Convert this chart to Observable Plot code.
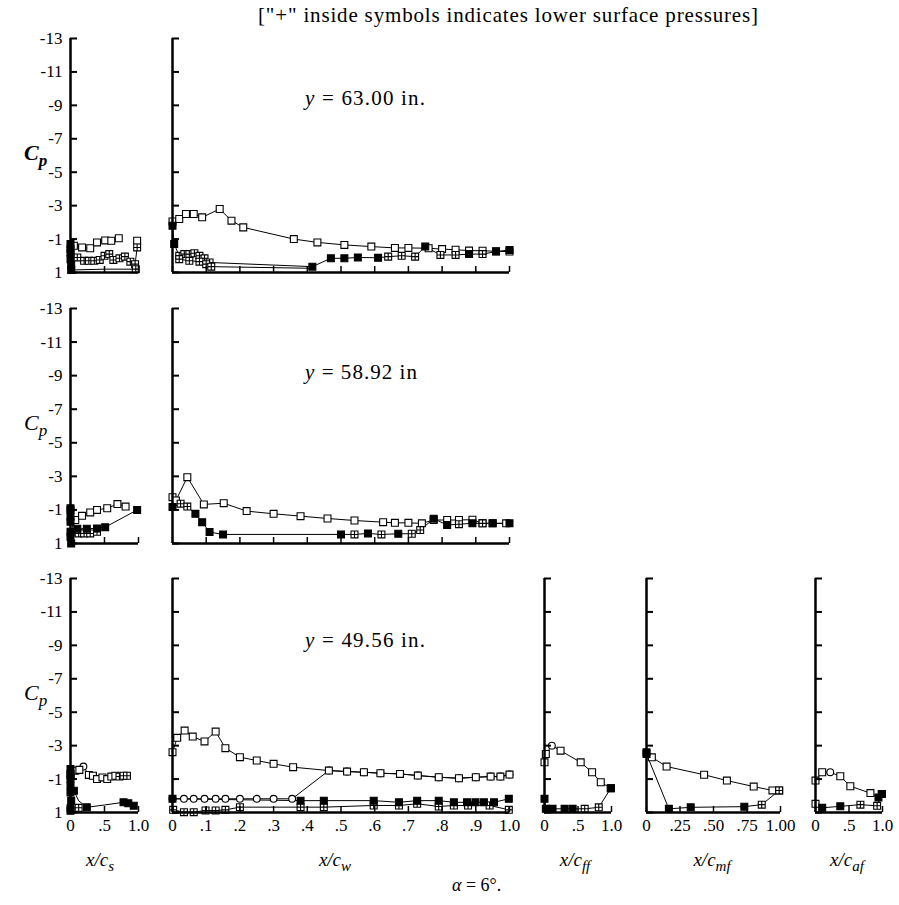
<!DOCTYPE html>
<html>
<head>
<meta charset="utf-8">
<script src="https://cdn.jsdelivr.net/npm/d3@7"></script>
<script src="https://cdn.jsdelivr.net/npm/@observablehq/plot@0.6"></script>
<style>
  html, body { margin: 0; padding: 0; background: #fff; }
  #chart { position: relative; width: 899px; height: 905px; background: #fff; overflow: hidden; }
  #chart svg { position: absolute; }
</style>
</head>
<body>
<div id="chart"></div>
<script>
// Pressure coefficient axis (inverted: suction up)
const yTicks = [-13, -11, -9, -7, -5, -3, -1, 1];
const yTickLabels = ["-13", "-11", "-9", "-7", "-5", "-3", "-1", "1"];

// Chordwise axes
const wingTicks = [0, 0.1, 0.2, 0.3, 0.4, 0.5, 0.6, 0.7, 0.8, 0.9, 1.0];
const wingTickLabels = ["0", ".1", ".2", ".3", ".4", ".5", ".6", ".7", ".8", ".9", "1.0"];
const halfTicks = [0, 0.5, 1.0];
const halfTickLabels = ["0", ".5", "1.0"];
const quarterTicks = [0, 0.25, 0.5, 0.75, 1.0];
const quarterTickLabels = ["0", ".25", ".50", ".75", "1.00"];

// Tap types: U upper surface, L lower surface ("+"), F filled, C circle, "" no symbol
// ---- y = 63.00 in. ----
const slat63Upper = [[0,-0.7,"F"],[0.05,-0.6,"U"],[0.17,-0.5,"U"],[0.29,-0.45,"U"],[0.39,-0.8,"U"],[0.51,-0.92,"U"],[0.6,-0.9,"U"],[0.71,-1.05,"U"]];
const slat63Lower = [[0,-0.4,"F"],[0.1,0.1,"L"],[0.2,0.3,"L"],[0.27,0.3,"L"],[0.35,0.3,"L"],[0.43,0.25,"L"],[0.5,0.0,"L"],[0.57,-0.1,"L"],[0.63,0.25,"L"],[0.72,0.15,"L"],[0.8,0.05,"L"],[0.88,0.35,"L"],[0.95,0.5,"L"],[0.98,-0.5,"L"],[0.98,-0.9,"U"]];
const slat63Nose = [[0,-0.2,"F"],[0,0.2,"F"],[0.01,0.55,"F"],[0.01,0.85,"F"],[0.5,0.8,""],[0.96,0.8,"L"]];
const wing63Upper = [[0,-2.05,"U"],[0.02,-2.2,"U"],[0.04,-2.5,"U"],[0.063,-2.5,"U"],[0.088,-2.3,"U"],[0.14,-2.8,"U"],[0.175,-2.1,"U"],[0.21,-1.7,"U"],[0.36,-1.0,"U"],[0.43,-0.8,"U"],[0.51,-0.65,"U"],[0.59,-0.55,"U"],[0.66,-0.47,"U"],[0.7,-0.47,"U"],[0.76,-0.45,"U"],[0.8,-0.4,"U"],[0.84,-0.36,"U"],[0.88,-0.31,"U"],[0.92,-0.3,"U"],[0.96,-0.27,"U"],[1.0,-0.25,"U"]];
const wing63Lower = [[0,-1.8,"F"],[0.005,-0.7,"F"],[0.02,0.0,"L"],[0.035,-0.1,"L"],[0.05,-0.1,"L"],[0.065,-0.15,"L"],[0.08,0.0,"L"],[0.095,0.15,"L"],[0.11,0.4,"L"],[0.415,0.65,"F"],[0.47,0.15,"F"],[0.51,0.15,"F"],[0.55,0.1,"F"],[0.61,0.12,"F"],[0.64,0.05,"L"],[0.68,0.0,"L"],[0.72,0.05,"L"],[0.75,-0.55,"F"],[0.795,-0.05,"L"],[0.84,-0.05,"L"],[0.88,-0.1,"F"],[0.92,-0.1,"L"],[0.96,-0.25,"F"],[1.0,-0.35,"F"]];
const wing63Lower2 = [[0.02,0.2,"L"],[0.05,0.3,"L"],[0.08,0.35,"L"],[0.1,0.5,"L"],[0.115,0.65,"L"],[0.415,0.75,""]];

// ---- y = 58.92 in ----
const slat58Upper = [[0,-1.0,"F"],[0.07,-0.4,"U"],[0.17,-0.65,"U"],[0.29,-0.85,"U"],[0.39,-1.0,"U"],[0.54,-1.1,"U"],[0.69,-1.35,"U"],[0.81,-1.2,"U"]];
const slat58Lower = [[0,-0.6,"F"],[0.05,0.35,"L"],[0.12,0.4,"L"],[0.2,0.4,"L"],[0.29,0.4,"L"],[0.39,0.3,"L"]];
const slat58Lower2 = [[0,0.3,"F"],[0.1,0.12,"F"],[0.24,0.12,"F"],[0.39,0.1,"F"],[0.51,0.03,"F"],[0.98,-1.0,"F"]];
const slat58Nose = [[0,-1.1,"F"],[0,-0.3,"F"],[0,0.6,"F"],[0.01,1.0,"F"]];
const wing58Upper = [[0,-1.76,"U"],[0.01,-1.56,"U"],[0.044,-2.95,"U"],[0.093,-1.33,"U"],[0.152,-1.4,"U"],[0.22,-0.93,"U"],[0.30,-0.77,"U"],[0.38,-0.63,"U"],[0.46,-0.49,"U"],[0.54,-0.37,"U"],[0.625,-0.27,"U"],[0.66,-0.23,"U"],[0.70,-0.23,"U"],[0.74,-0.2,"U"],[0.775,-0.4,"U"],[0.815,-0.4,"U"],[0.85,-0.4,"U"],[0.89,-0.42,"U"],[0.92,-0.2,"U"],[0.95,-0.2,"U"],[0.99,-0.2,"U"]];
const wing58Lower = [[0,-1.17,"F"],[0.024,-1.37,"L"],[0.044,-1.2,"L"],[0.068,-0.77,"F"],[0.088,-0.27,"F"],[0.11,0.32,"F"],[0.15,0.46,"F"],[0.5,0.46,"F"],[0.54,0.46,"L"],[0.58,0.4,"F"],[0.62,0.46,"L"],[0.67,0.42,"F"],[0.71,0.42,"L"],[0.735,0.2,"L"],[0.775,-0.48,"F"],[0.815,-0.1,"F"],[0.85,-0.15,"L"],[0.89,-0.2,"F"],[0.92,-0.2,"L"],[0.95,-0.2,"F"],[1.0,-0.2,"F"]];

// ---- y = 49.56 in. ----
const slat49Upper = [[0,-1.3,"F"],[0.07,-1.5,"U"],[0.13,-1.55,"U"],[0.19,-1.75,"C"],[0.27,-1.25,"U"],[0.33,-1.2,"U"],[0.39,-1.0,"U"],[0.47,-1.1,"U"],[0.54,-1.0,"U"],[0.6,-1.15,"U"],[0.66,-1.2,"U"],[0.72,-1.15,"L"],[0.78,-1.2,"L"],[0.83,-1.2,"L"]];
const slat49Lower = [[0,-1.0,"F"],[0.05,-0.3,"F"],[0.12,0.3,""],[0.24,0.69,"F"],[0.5,0.55,""],[0.78,0.39,"F"],[0.85,0.45,"F"],[0.93,0.59,"F"]];
const slat49Lower2 = [[0,0.75,"F"],[0.12,0.72,"L"]];
const slat49Nose = [[0,-1.6,"F"],[0,-1.2,"F"],[0,-0.6,"F"],[0,-0.2,"F"],[0.01,0.3,"F"],[0,0.9,"F"]];
const wing49Upper = [[0,-2.61,"U"],[0.014,-3.47,"U"],[0.036,-3.9,"U"],[0.06,-3.54,"U"],[0.095,-3.25,"U"],[0.128,-3.84,"U"],[0.157,-2.85,"U"],[0.2,-2.31,"U"],[0.25,-2.11,"U"],[0.3,-1.91,"U"],[0.358,-1.71,"U"],[0.464,-1.51,"U"],[0.518,-1.45,"U"],[0.568,-1.41,"U"],[0.617,-1.35,"U"],[0.675,-1.31,"U"],[0.728,-1.21,"U"],[0.79,-1.11,"U"],[0.85,-1.05,"U"],[0.9,-1.11,"U"],[0.944,-1.15,"U"],[0.973,-1.15,"U"],[1.0,-1.27,"U"]];
const wing49Run2 = [[0,0.18,"C"],[0.034,0.18,"C"],[0.063,0.18,"C"],[0.095,0.18,"C"],[0.128,0.18,"C"],[0.157,0.18,"C"],[0.2,0.18,"C"],[0.25,0.18,"C"],[0.3,0.18,"C"],[0.355,0.18,"C"],[0.464,-1.51,"C"],[0.518,-1.45,"C"],[0.568,-1.41,"C"],[0.617,-1.35,"C"],[0.675,-1.31,"C"],[0.728,-1.21,"C"],[0.79,-1.11,"C"],[0.85,-1.05,"C"],[0.9,-1.11,"C"],[0.944,-1.15,"C"],[0.973,-1.15,"C"],[1.0,-1.27,"C"]];
const wing49Lower = [[0,0.18,"F"],[0.38,0.29,"F"],[0.449,0.29,"F"],[0.597,0.29,"F"],[0.672,0.39,"F"],[0.726,0.29,"F"],[0.79,0.29,"F"],[0.835,0.39,"F"],[0.874,0.39,"F"],[0.899,0.39,"F"],[0.924,0.39,"F"],[0.954,0.39,"F"],[0.998,0.18,"F"]];
const wing49Lower2 = [[0.002,0.84,"L"],[0.034,0.98,"L"],[0.063,0.98,"L"],[0.098,0.88,"L"],[0.128,0.88,"L"],[0.157,0.84,"L"],[0.2,0.68,"L"],[0.38,0.68,"L"],[0.449,0.68,"L"],[0.597,0.58,"L"],[0.672,0.58,"L"],[0.726,0.48,"L"],[0.79,0.64,"L"],[0.835,0.58,"L"],[0.877,0.58,"L"],[0.941,0.58,"L"],[0.998,0.84,"L"]];
const foreFlap49Upper = [[0,-2.0,"U"],[0.02,-2.5,"U"],[0.11,-3.0,"C"],[0.24,-2.7,"U"],[0.54,-2.0,"U"],[0.71,-1.41,"U"],[0.84,-0.81,"U"],[0.99,-0.45,"F"]];
const foreFlap49Lower = [[0,0.18,"F"],[0.02,0.78,"F"],[0.12,0.78,"F"],[0.3,0.78,"F"],[0.42,0.78,"F"],[0.6,0.78,"L"],[0.81,0.69,"L"],[0.99,-0.45,"F"]];
const midFlap49Upper = [[0,-2.6,"F"],[0.04,-2.3,"U"],[0.15,-1.75,"U"],[0.43,-1.26,"U"],[0.6,-0.91,"U"],[0.8,-0.55,"U"],[0.94,-0.32,"U"],[0.99,-0.32,"L"]];
const midFlap49Lower = [[0,-2.5,"F"],[0.167,0.78,"F"],[0.33,0.69,"F"],[0.73,0.65,"F"],[0.86,0.53,"L"],[0.99,-0.32,"L"]];
const aftFlap49Upper = [[0,-0.91,"U"],[0.1,-1.41,"U"],[0.22,-1.41,"C"],[0.37,-1.17,"U"],[0.52,-0.57,"U"],[0.82,-0.16,"U"],[0.94,0.1,"F"],[0.99,-0.1,"F"]];
const aftFlap49Lower = [[0,0.48,"U"],[0.1,0.72,"F"],[0.37,0.63,"F"],[0.67,0.53,"L"],[0.92,0.6,"L"],[0.99,-0.1,"F"]];

// Square with a "+" inside, for lower-surface taps
const squarePlus = {
  draw(ctx, size) {
    const s = Math.sqrt(size) / 2;
    ctx.moveTo(-s, -s); ctx.lineTo(s, -s); ctx.lineTo(s, s); ctx.lineTo(-s, s); ctx.closePath();
    ctx.moveTo(-s, 0); ctx.lineTo(s, 0);
    ctx.moveTo(0, -s); ctx.lineTo(0, s);
  }
};

const FONT = "Liberation Serif, DejaVu Serif, serif";
const chart = document.getElementById("chart");

// Draw one pressure panel so that x=0..1 spans [left,right] and Cp=-13..1 spans [top,bottom]
function panel({left, right, top, bottom, series, xTicks, xLabels, showY, showX}) {
  const mL = showY ? 48 : 10, mR = 14, mT = 6, mB = showX ? 28 : 8;
  const innerW = right - left, innerH = bottom - top;
  const rows = series.flatMap(s => s.map(([x, cp, tap]) => ({x, cp, tap})));
  const dotStyle = {x: "x", y: "cp", r: 3.9, stroke: "black", strokeWidth: 1.1};
  const marks = [
    ...series.map(s => Plot.line(s.map(([x, cp]) => ({x, cp})), {x: "x", y: "cp", stroke: "black", strokeWidth: 1})),
    Plot.dot(rows.filter(d => d.tap === "C"), {...dotStyle, symbol: "circle", r: 3.4, fill: "white"}),
    Plot.dot(rows.filter(d => d.tap === "U"), {...dotStyle, symbol: "square", fill: "white"}),
    Plot.dot(rows.filter(d => d.tap === "L"), {...dotStyle, symbol: squarePlus, fill: "white"}),
    Plot.dot(rows.filter(d => d.tap === "F"), {...dotStyle, symbol: "square", fill: "black"}),
    Plot.tickY(yTicks, {y: d => d, insetRight: innerW - 7, stroke: "black", strokeWidth: 2}),
    Plot.tickX(xTicks, {x: d => d, insetTop: innerH - 6, stroke: "black", strokeWidth: 1.5}),
    Plot.ruleX([0], {stroke: "black", strokeWidth: 2.5}),
    Plot.ruleY([1], {stroke: "black", strokeWidth: 2.5})
  ];
  if (showY) marks.push(Plot.axisY({ticks: yTicks, tickFormat: d => yTickLabels[yTicks.indexOf(d)], tickSize: 0, tickPadding: 8, fontSize: 17, label: null}));
  if (showX) marks.push(Plot.axisX({ticks: xTicks, tickFormat: d => xLabels[xTicks.indexOf(d)], tickSize: 0, tickPadding: 6, fontSize: 17, label: null}));
  const svg = Plot.plot({
    width: innerW + mL + mR,
    height: innerH + mT + mB,
    marginLeft: mL, marginRight: mR, marginTop: mT, marginBottom: mB,
    x: {domain: [0, 1], axis: null},
    y: {domain: [1, -13], axis: null},
    style: {fontFamily: FONT, background: "transparent", overflow: "visible", color: "black"},
    marks
  });
  svg.style.left = (left - mL) + "px";
  svg.style.top = (top - mT) + "px";
  chart.appendChild(svg);
}

const slatX = [70, 138], wingX = [172, 509], ffX = [544, 611], mfX = [646, 780], afX = [815, 882];
const rowsY = [[38, 272], [308, 543], [578, 812]];

panel({left: slatX[0], right: slatX[1], top: rowsY[0][0], bottom: rowsY[0][1], series: [slat63Upper, slat63Lower, slat63Nose], xTicks: halfTicks, xLabels: halfTickLabels, showY: true});
panel({left: wingX[0], right: wingX[1], top: rowsY[0][0], bottom: rowsY[0][1], series: [wing63Upper, wing63Lower, wing63Lower2], xTicks: wingTicks, xLabels: wingTickLabels});
panel({left: slatX[0], right: slatX[1], top: rowsY[1][0], bottom: rowsY[1][1], series: [slat58Upper, slat58Lower, slat58Lower2, slat58Nose], xTicks: halfTicks, xLabels: halfTickLabels, showY: true});
panel({left: wingX[0], right: wingX[1], top: rowsY[1][0], bottom: rowsY[1][1], series: [wing58Upper, wing58Lower], xTicks: wingTicks, xLabels: wingTickLabels});
panel({left: slatX[0], right: slatX[1], top: rowsY[2][0], bottom: rowsY[2][1], series: [slat49Upper, slat49Lower, slat49Lower2, slat49Nose], xTicks: halfTicks, xLabels: halfTickLabels, showY: true, showX: true});
panel({left: wingX[0], right: wingX[1], top: rowsY[2][0], bottom: rowsY[2][1], series: [wing49Upper, wing49Run2, wing49Lower, wing49Lower2], xTicks: wingTicks, xLabels: wingTickLabels, showX: true});
panel({left: ffX[0], right: ffX[1], top: rowsY[2][0], bottom: rowsY[2][1], series: [foreFlap49Upper, foreFlap49Lower], xTicks: halfTicks, xLabels: halfTickLabels, showX: true});
panel({left: mfX[0], right: mfX[1], top: rowsY[2][0], bottom: rowsY[2][1], series: [midFlap49Upper, midFlap49Lower], xTicks: quarterTicks, xLabels: quarterTickLabels, showX: true});
panel({left: afX[0], right: afX[1], top: rowsY[2][0], bottom: rowsY[2][1], series: [aftFlap49Upper, aftFlap49Lower], xTicks: halfTicks, xLabels: halfTickLabels, showX: true});

// Annotations: note, station labels, Cp labels, chord labels, angle of attack
const overlay = d3.select(chart).append("svg")
  .attr("width", 899).attr("height", 905)
  .style("left", "0px").style("top", "0px")
  .attr("font-family", FONT).style("pointer-events", "none");

overlay.append("text").attr("x", 258).attr("y", 22).attr("font-size", 21)
  .attr("textLength", 500).attr("lengthAdjust", "spacing")
  .text("[\"+\" inside symbols indicates lower surface pressures]");

const stations = [["63.00 in.", 105, 120], ["58.92 in", 379, 112], ["49.56 in.", 647, 120]];
stations.forEach(([label, y, len]) => {
  const t = overlay.append("text").attr("x", 305).attr("y", y).attr("font-size", 21)
    .attr("textLength", len).attr("lengthAdjust", "spacing");
  t.append("tspan").attr("font-style", "italic").text("y");
  t.append("tspan").text(" = " + label);
});

[160, 430, 700].forEach((y, i) => {
  const t = overlay.append("text").attr("x", 24).attr("y", y).attr("font-size", 22)
    .attr("font-style", "italic").attr("font-weight", i === 0 ? "bold" : "normal");
  t.append("tspan").text("C");
  t.append("tspan").attr("dy", 6).attr("font-size", 17).text("p");
});

const chordLabels = [["s", 100], ["w", 335], ["ff", 575], ["mf", 712], ["af", 847]];
chordLabels.forEach(([sub, x]) => {
  const t = overlay.append("text").attr("x", x).attr("y", 866).attr("text-anchor", "middle").attr("font-size", 19).attr("font-style", "italic");
  t.append("tspan").text("x/c");
  t.append("tspan").attr("dy", 5).attr("font-size", 15).text(sub);
});

const alpha = overlay.append("text").attr("x", 452).attr("y", 891).attr("font-size", 18);
alpha.append("tspan").attr("font-style", "italic").text("α");
alpha.append("tspan").text(" = 6°.");
</script>
</body>
</html>
